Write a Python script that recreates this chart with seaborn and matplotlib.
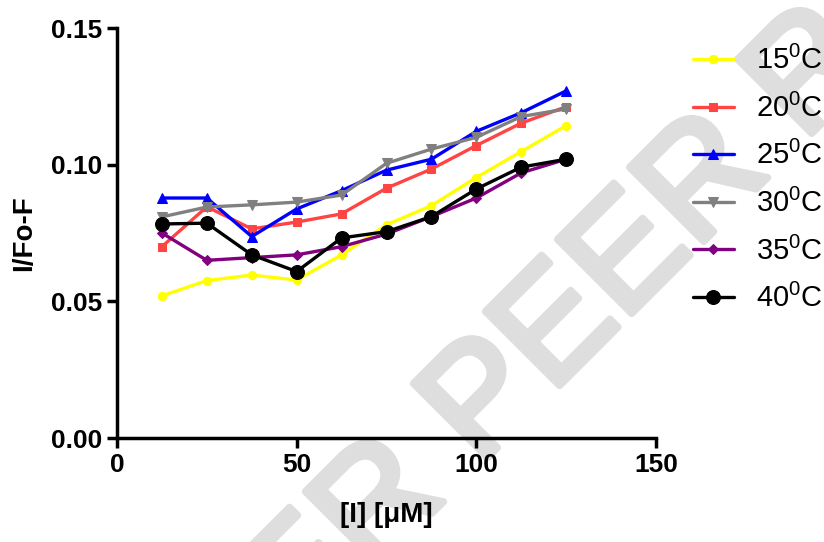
import numpy as np
import pandas as pd
import matplotlib
matplotlib.use('Agg')
import matplotlib.pyplot as plt
import matplotlib.patheffects as pe
from matplotlib.font_manager import FontProperties
import seaborn as sns

# concentrations of I (uM) and I/Fo-F readings per temperature
conc = [12.5, 25, 37.5, 50, 62.5, 75, 87.5, 100, 112.5, 125]
t15 = [0.052, 0.0576, 0.0596, 0.0578, 0.067, 0.078, 0.085, 0.0953, 0.1048, 0.1143]
t20 = [0.070, 0.0846, 0.0765, 0.079, 0.082, 0.0914, 0.0984, 0.107, 0.1152, 0.1212]
t25 = [0.0878, 0.0878, 0.0737, 0.0838, 0.0905, 0.098, 0.102, 0.1122, 0.119, 0.127]
t30 = [0.0809, 0.0845, 0.0853, 0.0863, 0.0889, 0.1005, 0.1057, 0.110, 0.1176, 0.1204]
t35 = [0.075, 0.065, 0.066, 0.067, 0.070, 0.0746, 0.081, 0.0878, 0.097, 0.102]
t40 = [0.0783, 0.0786, 0.067, 0.0609, 0.0732, 0.0755, 0.081, 0.0911, 0.0991, 0.102]
temps = ['15', '20', '25', '30', '35', '40']
series = [t15, t20, t25, t30, t35, t40]

colors = ['#ffff00', '#ff4444', '#0000ff', '#808080', '#800080', '#000000']
markers = ['o', 's', '^', 'v', 'D', 'o']
msizes = [6, 6, 7, 7, 5, 10]

sns.set_style("ticks")
plt.rcParams['font.family'] = ['Liberation Sans', 'DejaVu Sans']
plt.rcParams['mathtext.fontset'] = 'custom'
plt.rcParams['mathtext.rm'] = 'Liberation Sans'
for k in ['text.color', 'axes.labelcolor', 'xtick.color', 'ytick.color', 'axes.edgecolor']:
    plt.rcParams[k] = 'black'

fig = plt.figure(figsize=(8.24, 5.42), dpi=100)
ax = fig.add_axes([117/824, 1-438/542, (656-117)/824, (438-28)/542])
ax.set_facecolor('none')

# watermark, placed so the second E of PEER sits where it does in the scan
wm = 'UNDER PEER REVIEW'
fs = 110
prop = FontProperties(family=['Liberation Sans Narrow', 'Liberation Sans'], size=fs)
rend = fig.canvas.get_renderer()
w_pre = rend.get_text_width_height_descent('UNDER PE', prop, ismath=False)[0]
w_e = rend.get_text_width_height_descent('E', prop, ismath=False)[0]
cap = 0.716 * fs * 100 / 72
ang = np.radians(45)
u = np.array([np.cos(ang), np.sin(ang)])
n = np.array([-np.sin(ang), np.cos(ang)])
target = np.array([620, 542 - 248])
start = target - u * (w_pre + w_e / 2) - n * cap / 2
fig.text(start[0] / 824, start[1] / 542, wm, rotation=45, rotation_mode='anchor',
         fontproperties=prop, color='#dedede', ha='left', va='baseline', zorder=-5,
         path_effects=[pe.withStroke(linewidth=5, foreground='#dedede')])

for vals, t, c, m, ms in zip(series, temps, colors, markers, msizes):
    sns.lineplot(x=conc, y=vals, ax=ax, color=c, marker=m, markersize=ms,
                 markeredgecolor=c, linewidth=2.4, label=r'%s$^{\mathrm{0}}$C' % t)

ax.set_xlim(0, 150)
ax.set_ylim(0, 0.15)
ax.set_xticks([0, 50, 100, 150])
ax.set_yticks([0, 0.05, 0.10, 0.15])
ax.set_yticklabels(['0.00', '0.05', '0.10', '0.15'])
ax.tick_params(axis='both', width=2.5, length=7, labelsize=19, direction='out')
for lab in ax.get_xticklabels() + ax.get_yticklabels():
    lab.set_fontweight('bold')
for s in ['top', 'right']:
    ax.spines[s].set_visible(False)
for s in ['left', 'bottom']:
    ax.spines[s].set_linewidth(2.5)

ax.set_xlabel('[I] [\u03bcM]', fontsize=20, fontweight='bold', labelpad=18)
ax.set_ylabel('I/Fo-F', fontsize=20, fontweight='bold', labelpad=10)

ax.legend(loc='upper left', bbox_to_anchor=(693/824, 1-46/542), bbox_transform=fig.transFigure,
          frameon=False, fontsize=21, handlelength=1.4, handletextpad=0.75,
          labelspacing=0.63, borderpad=0, borderaxespad=0)

fig.savefig('out.png', dpi=100)
